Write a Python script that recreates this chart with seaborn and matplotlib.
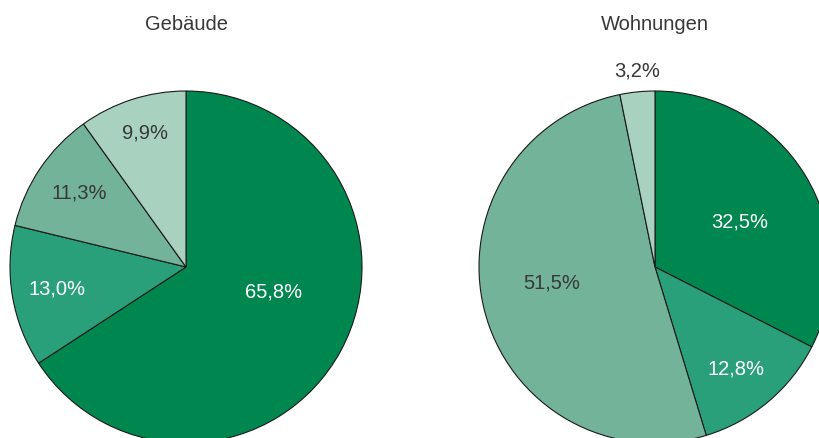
import matplotlib
matplotlib.use("Agg")
import matplotlib.pyplot as plt
import seaborn as sns

# ---- data ----
titles = ["Gebäude", "Wohnungen"]
gebaeude_values = [65.8, 13.0, 11.3, 9.9]
wohnungen_values = [32.5, 12.8, 51.5, 3.2]
gebaeude_labels = ["65,8%", "13,0%", "11,3%", "9,9%"]
wohnungen_labels = ["32,5%", "12,8%", "51,5%", "3,2%"]

# ---- style ----
colors = ["#00874F", "#2AA07A", "#72B399", "#A8D2BF"]
text_colors = ["white", "white", "#383838", "#383838"]
# label positions in pie-radius units (layout)
gebaeude_label_pos = [(0.50, -0.136), (-0.733, -0.119), (-0.608, 0.426), (-0.233, 0.767)]
wohnungen_label_pos = [(0.483, 0.261), (0.46, -0.574), (-0.585, -0.085), (-0.102, 1.12)]

sns.set_theme(style="white")
plt.rcParams["font.family"] = ["Liberation Sans", "DejaVu Sans"]

W, H = 819, 439
fig = plt.figure(figsize=(W / 100, H / 100), dpi=100)

R = 176  # pixel radius
centers = [(186, 268), (655, 268)]
values_list = [gebaeude_values, wohnungen_values]
labels_list = [gebaeude_labels, wohnungen_labels]
pos_list = [gebaeude_label_pos, wohnungen_label_pos]

for (cx, cy), vals, labs, poss, title in zip(centers, values_list, labels_list, pos_list, titles):
    left = (cx - R) / W
    bottom = (H - cy - R) / H
    ax = fig.add_axes([left, bottom, 2 * R / W, 2 * R / H])
    ax.pie(vals, colors=colors, startangle=90, counterclock=False,
           wedgeprops=dict(edgecolor="#1a1a1a", linewidth=0.8))
    ax.set_xlim(-1, 1)
    ax.set_ylim(-1, 1)
    ax.set_aspect("equal")
    ax.axis("off")
    for lab, (x, y), tc in zip(labs, poss, text_colors):
        ax.text(x, y, lab, ha="center", va="center", color=tc, fontsize=14.5,
                clip_on=False)
    fig.text(cx / W, 1 - 24 / H, title, ha="center", va="center",
             color="#383838", fontsize=14.5)

fig.savefig("out.png", dpi=100)
